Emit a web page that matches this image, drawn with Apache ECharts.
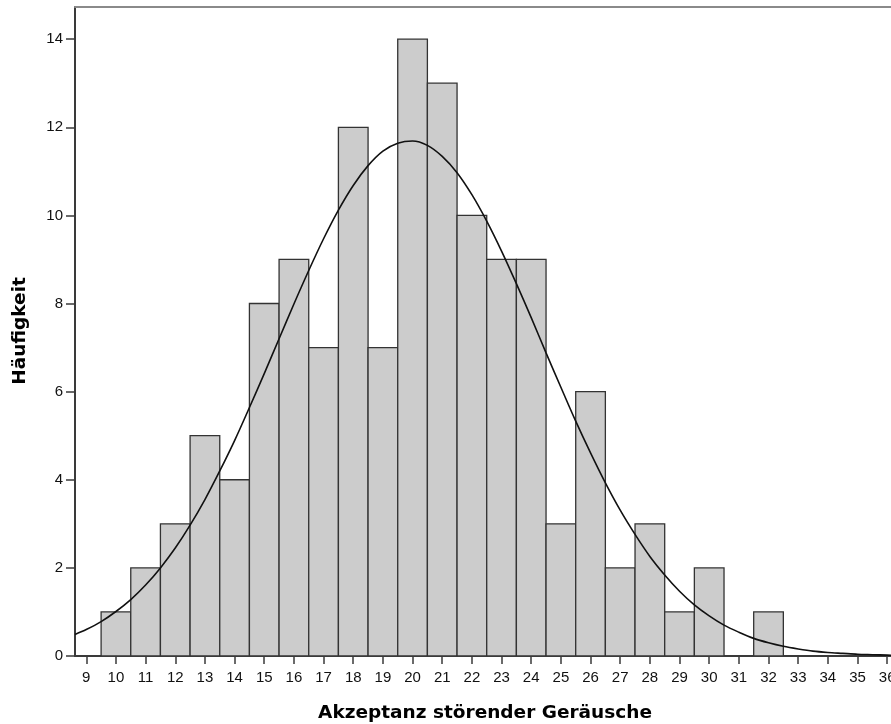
<!DOCTYPE html>
<html>
<head>
<meta charset="utf-8">
<script src="https://cdn.jsdelivr.net/npm/echarts@6/dist/echarts.min.js"></script>
<style>
html,body{margin:0;padding:0;background:#fff;}
#chart{width:891px;height:724px;}
</style>
</head>
<body>
<div id="chart"></div>
<script>
// Histogram bins (centres) and counts
var binCenters = [10,11,12,13,14,15,16,17,18,19,20,21,22,23,24,25,26,27,28,29,30,31,32];
var binCounts  = [1,2,3,5,4,8,9,7,12,7,14,13,10,9,9,3,6,2,3,1,2,0,1];
// Normal curve overlay
var curveX = [8.62,9,9.5,10,10.5,11,11.5,12,12.5,13,13.5,14,14.5,15,15.5,16,16.5,17,17.5,18,18.5,19,19.5,20,20.5,21,21.5,22,22.5,23,23.5,24,24.5,25,25.5,26,26.5,27,27.5,28,28.5,29,29.5,30,30.5,31,31.5,32,32.5,33,33.5,34,34.5,35,35.5,36,36.5];
var curveY = [0.49,0.60,0.78,1.01,1.28,1.61,2.00,2.45,2.97,3.55,4.20,4.89,5.64,6.41,7.20,7.99,8.75,9.47,10.12,10.68,11.13,11.46,11.64,11.69,11.59,11.34,10.97,10.47,9.87,9.19,8.45,7.68,6.88,6.10,5.33,4.61,3.93,3.31,2.76,2.26,1.84,1.47,1.16,0.91,0.70,0.54,0.40,0.30,0.22,0.16,0.11,0.08,0.06,0.04,0.03,0.02,0.01];
// Tick labels
var xTicks = [9,10,11,12,13,14,15,16,17,18,19,20,21,22,23,24,25,26,27,28,29,30,31,32,33,34,35,36];
var yTicks = [0,2,4,6,8,10,12,14];
var xTitle = 'Akzeptanz störender Geräusche';
var yTitle = 'Häufigkeit';

var barData = binCenters.map(function(c,i){ return [c, binCounts[i]]; });
var curveData = curveX.map(function(x,i){ return [x, curveY[i]]; });

var chart = echarts.init(document.getElementById('chart'), null, {renderer:'canvas'});
var labelFont = {fontFamily:'Liberation Sans, Arial, sans-serif', fontSize:15, color:'#111'};
var xMin = 8.62, xMax = 36.5;
chart.setOption({
  animation:false,
  backgroundColor:'#fff',
  grid:{left:75, top:7, width:827, bottom:68, show:false, outerBoundsMode:'none', containLabel:false},
  xAxis:[{
    type:'value', min:xMin, max:xMax,
    axisLine:{show:true, onZero:false, lineStyle:{color:'#3a3a3a', width:2}},
    axisTick:{show:true, length:8, customValues:xTicks, lineStyle:{color:'#3a3a3a', width:1.5}},
    axisLabel:Object.assign({customValues:xTicks, margin:14, hideOverlap:false}, labelFont),
    splitLine:{show:false}
  },{
    type:'value', min:xMin, max:xMax, position:'top',
    axisLine:{show:true, onZero:false, lineStyle:{color:'#8a8a8a', width:2}},
    axisTick:{show:false}, axisLabel:{show:false}, splitLine:{show:false}
  }],
  yAxis:{
    type:'value', min:0, max:14.73,
    axisLine:{show:true, lineStyle:{color:'#3a3a3a', width:2}},
    axisTick:{show:true, length:9, customValues:yTicks, lineStyle:{color:'#3a3a3a', width:1.5}},
    axisLabel:Object.assign({customValues:yTicks, margin:12}, labelFont),
    splitLine:{show:false}
  },
  graphic:[
    {type:'text', x:485, y:713, style:{text:xTitle, font:'bold 18.5px "DejaVu Sans", sans-serif', fill:'#000', textAlign:'center', textVerticalAlign:'middle'}},
    {type:'text', rotation:Math.PI/2, x:20, y:331, style:{text:yTitle, font:'bold 18.5px "DejaVu Sans", sans-serif', fill:'#000', textAlign:'center', textVerticalAlign:'middle'}}
  ],
  series:[
    {
      type:'custom',
      data:barData,
      clip:true,
      renderItem:function(params, api){
        var c = api.value(0), v = api.value(1);
        if (v <= 0) return null;
        var p1 = api.coord([c-0.5, v]);
        var p2 = api.coord([c+0.5, 0]);
        return {type:'rect', shape:{x:p1[0], y:p1[1], width:p2[0]-p1[0], height:p2[1]-p1[1]},
          style:{fill:'#cccccc', stroke:'#333333', lineWidth:1.3}};
      },
      z:2
    },
    {
      type:'line', data:curveData, smooth:0.3, showSymbol:false, symbol:'none', clip:true,
      lineStyle:{color:'#111', width:1.6}, z:3
    }
  ]
});
</script>
</body>
</html>
